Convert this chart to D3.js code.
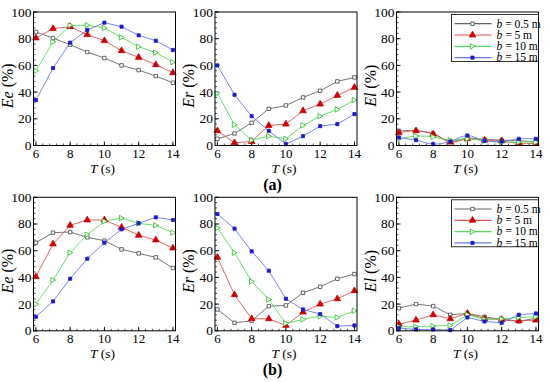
<!DOCTYPE html>
<html>
<head>
<meta charset="utf-8">
<script src="https://cdn.jsdelivr.net/npm/d3@7"></script>
</head>
<body style="margin:0;background:#fff">
<svg id="chart" width="550" height="382"></svg>
<script>
const periods = [6,7,8,9,10,11,12,13,14];
const widthLabels = ["0.5","5","10","15"];
const xTicks = [6,8,10,12,14];
const yTicks = [0,20,40,60,80,100];

// each list: b = 0.5, 5, 10, 15 m
const eeA = [
    [85,80.5,75.5,70,65.5,60,56.5,52,47],
    [80.5,87.5,89,83,78.5,71,66,60.5,54.5],
    [56,77.5,90,90,88,81,74,69.5,62.5],
    [34,58,77,86.5,92,89,82.5,78.5,71.5]
];
const erA = [
    [5,9,17,27.5,30,36,41,48,51],
    [11,2,3,15,16,26,31,37.5,43.5],
    [39,15.5,4,7,5,15,22,27,34],
    [60,38,22,11,1,7,14.5,16,23.5]
];
const elA = [
    [11,11,9,3,5.5,4.5,4,3.5,3],
    [9.5,11,8.5,2.5,5,4,3.5,1.5,1.5],
    [5,7,6.5,4,5,3.5,2.5,2.5,2.5],
    [6,4,1,3,7.5,3.5,3,5,5]
];
const eeB = [
    [66,73.5,74,70,67.5,61,58,55,47],
    [40.5,65,79,83,83,77.5,71.5,68,62],
    [20,38,58.5,72,82,84.5,80.5,79,73.5],
    [10.5,22,39,54,66,76,80.5,85,83]
];
const erB = [
    [16,6,7.5,18.5,19,28.5,33,39,42.5],
    [55,27,9,9,4,14,20,24,30],
    [77,58.5,37,23.5,5.5,8.5,11,10,15],
    [87.5,76.5,59.5,45,24,16,12.5,3.5,4]
];
const elB = [
    [17,20,18.5,12,13,10.5,8.5,7,9.5],
    [5,8,12,9,13,9,8.5,7.5,8],
    [3,3,3.5,4,12,8.5,9,10,10.5],
    [2,1,1,0.5,10,7,6,12,13]
];

const lineColors = ["#666666","#e05050","#55dd55","#6677ee"];
const markColors = ["#444444","#cc0000","#22bb22","#1a1acc"];
const markFilled = [false,true,false,true];

const panelWidth = 142;
const panelHeight = 133.5;
const colLeft = [33.5,215,396.5];
const rowTop = [12,197.3];

const svg = d3.select("#chart")
    .style("font-family","\"Liberation Serif\", \"Times New Roman\", serif");

const markPath = (k) =>
{
    if (k === 0) return d3.symbol().type(d3.symbolSquare).size(12)();
    if (k === 1) return d3.symbol().type(d3.symbolTriangle).size(19)();
    if (k === 2) return "M-2.2,-2.7 L2.7,0 L-2.2,2.7 Z";
    return d3.symbol().type(d3.symbolSquare).size(10)();
}

const drawMark = (g,k,x,y) =>
{
    g.append("path")
        .attr("d",markPath(k))
        .attr("transform",`translate(${x},${y})`)
        .attr("fill",markFilled[k] ? markColors[k] : "white")
        .attr("stroke",markColors[k])
        .attr("stroke-width",0.8);
}

const drawPanel = (col,row,series,yName,smooth,legend) =>
{
    const left = colLeft[col];
    const top = rowTop[row];
    const g = svg.append("g").attr("transform",`translate(${left},${top})`);

    const x = d3.scaleLinear().domain([5.86,14.15]).range([0,panelWidth]);
    const y = d3.scaleLinear().domain([0,100]).range([panelHeight,0]);

    // minor + major ticks, inward
    const xMinor = d3.range(6,14.01,0.4);
    const yMinor = d3.range(0,100.01,4);
    g.selectAll(".xminor").data(xMinor).join("line")
        .attr("x1",d => x(d)).attr("x2",d => x(d))
        .attr("y1",panelHeight).attr("y2",panelHeight-2)
        .attr("stroke","black").attr("stroke-width",0.7);
    g.selectAll(".yminor").data(yMinor).join("line")
        .attr("y1",d => y(d)).attr("y2",d => y(d))
        .attr("x1",0).attr("x2",2)
        .attr("stroke","black").attr("stroke-width",0.7);
    g.selectAll(".xmajor").data(xTicks).join("line")
        .attr("x1",d => x(d)).attr("x2",d => x(d))
        .attr("y1",panelHeight).attr("y2",panelHeight-4)
        .attr("stroke","black").attr("stroke-width",0.9);
    g.selectAll(".ymajor").data(yTicks).join("line")
        .attr("y1",d => y(d)).attr("y2",d => y(d))
        .attr("x1",0).attr("x2",4)
        .attr("stroke","black").attr("stroke-width",0.9);

    g.selectAll(".xlab").data(xTicks).join("text")
        .text(d => d)
        .attr("x",d => x(d))
        .attr("y",panelHeight+12.5)
        .attr("text-anchor","middle")
        .attr("font-size",13);
    g.selectAll(".ylab").data(yTicks).join("text")
        .text(d => d)
        .attr("x",-2)
        .attr("y",d => y(d)+4.5)
        .attr("text-anchor","end")
        .attr("font-size",13.5);

    const line = d3.line()
        .x((d,i) => x(periods[i]))
        .y(d => y(d))
        .curve(smooth ? d3.curveCatmullRom : d3.curveLinear);

    series.forEach((vals,k) =>
    {
        g.append("path")
            .attr("d",line(vals))
            .attr("fill","none")
            .attr("stroke",lineColors[k])
            .attr("stroke-width",0.9);
    });
    series.forEach((vals,k) =>
    {
        vals.forEach((v,i) => drawMark(g,k,x(periods[i]),y(v)));
    });

    g.append("rect")
        .attr("width",panelWidth)
        .attr("height",panelHeight)
        .attr("fill","none")
        .attr("stroke","black")
        .attr("stroke-width",1);

    // axis titles
    const yt = g.append("text")
        .attr("transform",`translate(-21,${panelHeight/2+7}) rotate(-90)`)
        .attr("text-anchor","middle")
        .attr("font-size",16);
    yt.append("tspan").attr("font-style","italic").text(yName);
    yt.append("tspan").text(" (%)");

    const xt = g.append("text")
        .attr("x",panelWidth/2-2)
        .attr("y",panelHeight+27.5)
        .attr("text-anchor","middle")
        .attr("font-size",13.5);
    xt.append("tspan").attr("font-style","italic").text("T");
    xt.append("tspan").text(" (s)");

    if (legend) drawLegend(g);
}

const drawLegend = (g) =>
{
    const boxW = 87;
    const lx = panelWidth-boxW;
    const leg = g.append("g").attr("transform",`translate(${lx},2.5)`);
    leg.append("rect")
        .attr("width",boxW)
        .attr("height",47)
        .attr("fill","white")
        .attr("stroke","black")
        .attr("stroke-width",0.8);
    widthLabels.forEach((w,k) =>
    {
        const ry = 9.2 + k*11.3;
        leg.append("line")
            .attr("x1",3).attr("x2",40)
            .attr("y1",ry).attr("y2",ry)
            .attr("stroke",lineColors[k])
            .attr("stroke-width",1.2);
        drawMark(leg,k,21,ry);
        leg.append("text")
            .attr("x",45)
            .attr("y",ry+3.8)
            .attr("font-size",11.5)
            .html(`<tspan font-style="italic">b</tspan> = ${w} m`);
    });
}

drawPanel(0,0,eeA,"Ee",false,false);
drawPanel(1,0,erA,"Er",false,false);
drawPanel(2,0,elA,"El",true,true);
drawPanel(0,1,eeB,"Ee",false,false);
drawPanel(1,1,erB,"Er",false,false);
drawPanel(2,1,elB,"El",false,true);

svg.append("text")
    .text("(a)")
    .attr("x",272.5)
    .attr("y",190)
    .attr("text-anchor","middle")
    .attr("font-weight","bold")
    .attr("font-size",16);
svg.append("text")
    .text("(b)")
    .attr("x",272.5)
    .attr("y",374.5)
    .attr("text-anchor","middle")
    .attr("font-weight","bold")
    .attr("font-size",16);
</script>
</body>
</html>
